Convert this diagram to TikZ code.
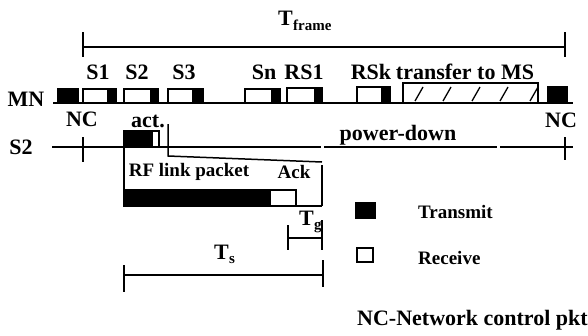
\documentclass[tikz,border=0pt]{standalone}
\usepackage{fontspec}
\setmainfont{Liberation Serif}
\begin{document}
\begin{tikzpicture}[x=1pt,y=-1pt,
  lbl/.style={font=\bfseries\fontsize{22}{23}\selectfont, inner sep=0pt},
  small/.style={font=\bfseries\fontsize{19}{20}\selectfont, inner sep=0pt},
  sub/.style={font=\bfseries\fontsize{15}{15}\selectfont, inner sep=0pt},
  ln/.style={line width=2pt},
  txb/.style={fill=black, draw=black, line width=1.4pt},
  rxb/.style={fill=white, draw=black, line width=1.4pt}]
\useasboundingbox (0,0) rectangle (588,335);

% frame duration bracket
\coordinate (fl) at (83,47); \coordinate (fr) at (565,47);
\draw[ln] (fl) -- (fr);
\draw[ln] (83,32) -- (83,57) (565,32) -- (565,57);
\node[lbl, anchor=base east] (tf) at (293,25) {T};
\node[sub, anchor=base west] (tfs) at (tf.base east) [yshift=-5pt] {frame};

% slot labels
\node[lbl] (s1) at (98,72) {S1};
\node[lbl] (s2) at (137,72) {S2};
\node[lbl] (s3) at (184,72) {S3};
\node[lbl] (sn) at (264,72) {Sn};
\node[lbl] (rs1) at (304,72) {RS1};
\node[lbl] (rsk) at (371,72) {RSk};
\node[lbl] (tms) at (465,72) {transfer to MS};

% MN timeline
\node[lbl] (mn) at (26,99) {MN};
\draw[ln] (53,103) -- (573,103);
\draw[txb] (58,89) rectangle (78,103);
\draw[rxb] (83,89) rectangle (108,103);  \draw[txb] (108,89) rectangle (116,103);
\draw[rxb] (124,89) rectangle (151,103); \draw[txb] (151,89) rectangle (158,103);
\draw[rxb] (168,89) rectangle (193,103); \draw[txb] (193,89) rectangle (203,103);
\draw[rxb] (245,89) rectangle (272,103); \draw[txb] (272,89) rectangle (280,103);
\draw[rxb] (287,88) rectangle (315,103); \draw[txb] (315,88) rectangle (322,103);
\draw[rxb] (357,87) rectangle (382,103); \draw[txb] (382,87) rectangle (390,103);
\draw[rxb] (403,83) rectangle (538,103);
\foreach \x in {415,443,472,500,530}
  \draw[line width=1.3pt] (\x,101) -- ++(8,-14);
\draw[txb] (548,87) rectangle (567,103);
\node[lbl] (nc1) at (82,119) {NC};
\node[lbl] (act) at (148,121) {act.};
\node[lbl] (nc2) at (561,120) {NC};

% S2 timeline
\node[lbl] (s2l) at (21,147) {S2};
\draw[ln] (52,147) -- (321,147) (324,147) -- (497,147) (500,147) -- (573,147);
\draw[ln] (83,137) -- (83,162) (565,137) -- (565,160);
\node[lbl] (pd) at (398,135) {power-down};
\draw[txb] (124,131) rectangle (152,147);
\draw[rxb] (152,131) rectangle (159,147);

% expanded slot
\draw[ln] (124,147) -- (124,206) -- (322,206);
\draw[line width=1.5pt] (168,124) -- (168,156) -- (322,162);
\draw[ln] (322,165) -- (322,206);
\node[small] (rf) at (189,172) {RF link packet};
\node[small] (ack) at (294,172) {Ack};
\draw[txb] (124,190) rectangle (270,206);
\draw[rxb] (270,190) rectangle (296,206);

% guard time
\draw[ln] (288,238) -- (322,238);
\draw[ln] (288,225) -- (288,250) (322,220) -- (322,250);
\node[lbl, anchor=base east] (tg) at (314,225) {T};
\node[sub, anchor=base west] (tgs) at (tg.base east) [yshift=-4pt] {g};

% slot time
\draw[ln] (124,275) -- (323,275);
\draw[ln] (124,265) -- (124,292) (323,260) -- (323,287);
\node[lbl, anchor=base east] (ts) at (229,259) {T};
\node[sub, anchor=base west] (tss) at (ts.base east) [yshift=-4pt] {s};

% legend
\draw[txb] (356,203) rectangle (375,218);
\node[small, anchor=west] (ltx) at (418,212) {Transmit};
\draw[rxb] (357,248) rectangle (373,262);
\node[small, anchor=west] (lrx) at (418,258) {Receive};
\node[lbl, anchor=west] (ncl) at (357,320) {NC-Network control pkt};
\end{tikzpicture}
\end{document}
